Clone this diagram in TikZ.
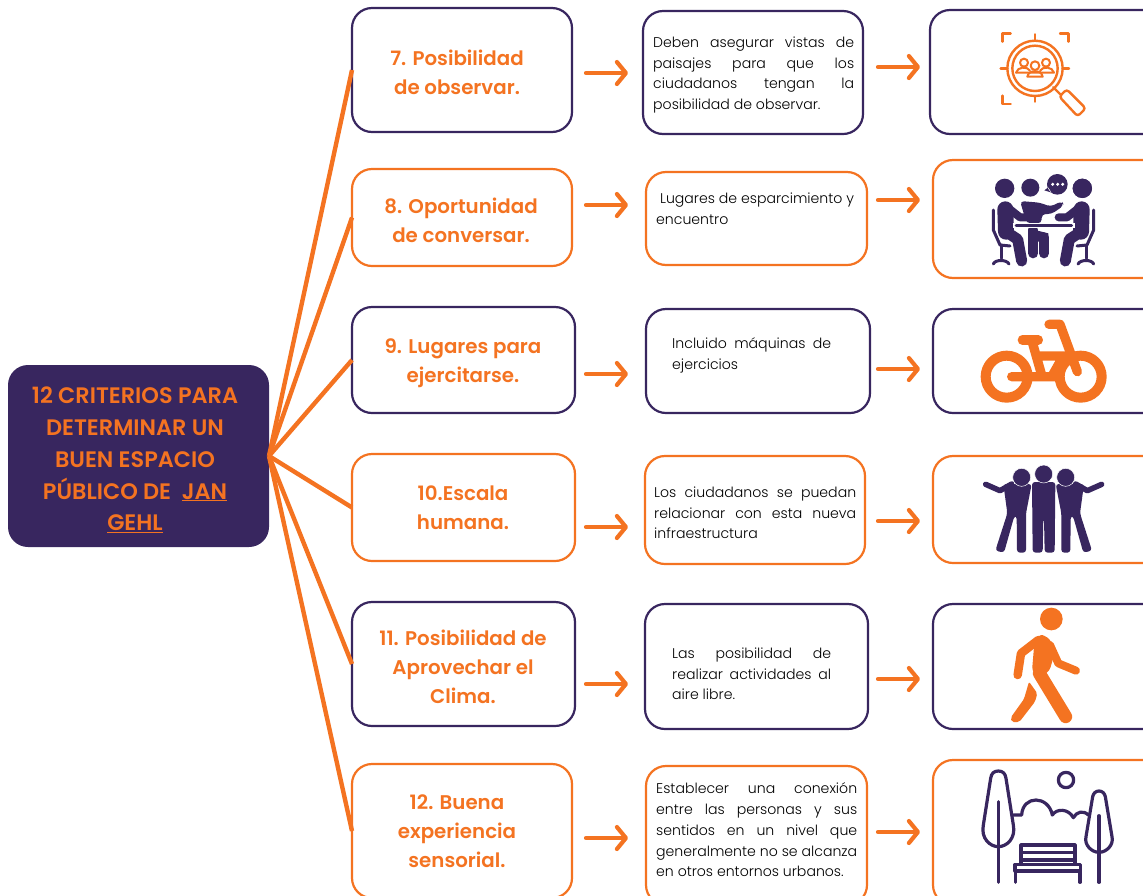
\documentclass[tikz,border=0pt]{standalone}
\usepackage{fontspec}
\usetikzlibrary{arrows.meta}
\setmainfont{Poppins}[BoldFont={Poppins SemiBold}]
\newfontfamily\lightf{Poppins Light}
\definecolor{purp}{HTML}{38265F}
\definecolor{orng}{HTML}{F47321}
\tikzset{
  boxnode/.style={draw=#1,fill=white,line width=2.2pt,rounded corners=20pt,inner sep=0pt,outer sep=0pt,anchor=north west},
  hub/.style={fill=purp,rounded corners=20pt,inner sep=0pt,outer sep=0pt,anchor=north west},
  spoke/.style={draw=orng,line width=4.4pt},
  flow/.style={draw=orng,line width=4.2pt,line cap=round,-{Straight Barb[length=9pt,width=22pt,round]}},
  headtxt/.style={text=orng,font=\fontsize{19.8}{29}\selectfont\bfseries,align=center,inner sep=0pt},
  bodytxt/.style={text=black,font=\lightf\fontsize{14.1}{20.8}\selectfont,align=left,inner sep=0pt,anchor=north west},
  ol/.style={draw=orng,line width=2.4pt,line cap=round,line join=round},
  pl/.style={draw=purp,line width=3.2pt,line cap=round,line join=round},
  th/.style={draw=#1,line cap=round,line join=round},
}
\newcommand{\bx}[6]{%
  \pgfmathsetmacro{\bw}{#4-#2}\pgfmathsetmacro{\bh}{#5-#3}%
  \node[boxnode=#6,minimum width=\bw pt,minimum height=\bh pt] (#1) at (#2,#3) {};}
\newcommand{\jl}[2]{\makebox[#1pt][s]{#2}\\}
\newcommand{\seated}{%
  \draw[th=purp,line width=16pt] (256,628)--(258,695);
  \draw[th=purp,line width=8pt] (262,622)--(300,652)--(325,652);
  \draw[th=purp,line width=11pt] (258,695)--(293,718)--(305,783);
  \draw[th=purp,line width=3pt] (220,630)--(220,690)--(240,735)--(270,738);
  \draw[th=purp,line width=3pt] (243,735)--(243,775);
  \draw[th=purp,line width=3pt] (220,792) .. controls (225,778) and (260,778) .. (267,792);
  \fill[purp] (254,565) circle (29);
}
\newcommand{\hugger}{%
  \draw[th=purp,line width=5.5pt] (197,553)--(240,572)--(275,552);
  \fill[purp,rounded corners=3pt] (250,552)--(335,552)--(318,640)--(318,758)--(291,758)--(290,648)--(283,648)--(252,758)--(226,752)--(262,640)--cycle;
}
\begin{document}
\begin{tikzpicture}[x=1pt,y=-1pt]
\useasboundingbox (0,0) rectangle (1143,895);
\clip (0,0) rectangle (1143,895);

\pgfmathsetmacro{\hw}{269-8}\pgfmathsetmacro{\hh}{547-365}
\node[hub,minimum width=\hw pt,minimum height=\hh pt] (c) at (8,365) {};

\bx{a7}{352}{8}{572}{132}{purp}
\bx{a8}{352}{169}{572}{266}{orng}
\bx{a9}{352}{307}{575}{413}{purp}
\bx{a10}{352}{454}{575}{561}{orng}
\bx{a11}{352}{602}{575}{726}{purp}
\bx{a12}{352}{764}{572}{898}{orng}

\bx{b7}{643}{11}{863}{134}{purp}
\bx{b8}{646}{172}{867}{265}{orng}
\bx{b9}{646}{309}{870}{413}{purp}
\bx{b10}{645}{456}{865}{564}{orng}
\bx{b11}{645}{604}{868}{729}{purp}
\bx{b12}{646}{766}{867}{905}{orng}

\bx{d7}{930}{10}{1165}{134}{purp}
\bx{d8}{933}{160}{1165}{278}{orng}
\bx{d9}{933}{309}{1165}{413}{purp}
\bx{d10}{933}{456}{1165}{563}{orng}
\bx{d11}{933}{604}{1165}{729}{purp}
\bx{d12}{933}{760}{1165}{905}{orng}

\foreach \n in {7,8,9,10,11,12} \draw[spoke] (c.east) -- (a\n.west);

\foreach \n/\ya/\yb in {7/73/67,8/205/200,9/374/369,10/527/521,11/684/679,12/838/832}{
  \coordinate (p\n) at (586,\ya); \coordinate (q\n) at (628,\ya);
  \coordinate (r\n) at (878,\yb); \coordinate (s\n) at (920,\yb);
  \draw[flow] (p\n) -- (q\n);
  \draw[flow] (r\n) -- (s\n);
}

\node[text=orng,font=\fontsize{22.4}{31.8}\selectfont\bfseries,align=center,inner sep=0pt] (title) at (135,460)
 {12 CRITERIOS PARA\\DETERMINAR UN\\BUEN ESPACIO\\PÚBLICO DE\ \ \underline{JAN}\\\underline{GEHL}};

\node[headtxt] (t7) at (457,72.5) {7. Posibilidad\\de observar.};
\node[headtxt] (t8) at (461,220.5) {8. Oportunidad\\de conversar.};
\node[headtxt] (t9) at (463,363.5) {9. Lugares para\\ejercitarse.};
\node[headtxt] (t10) at (463,507.5) {10.Escala\\humana.};
\node[headtxt] (t11) at (463,667) {11. Posibilidad de\\Aprovechar el\\Clima.};
\node[headtxt] (t12) at (457,831) {12. Buena\\experiencia\\sensorial.};

\node[bodytxt] (u7) at (653,36.5) {\jl{201}{Deben asegurar vistas de}\jl{201}{paisajes para que los}\jl{201}{ciudadanos tengan la}posibilidad de observar.};
\node[bodytxt] (u8) at (656,192.5) {\ Lugares de esparcimiento y\\encuentro};
\node[bodytxt] (u9) at (672,337.5) {\jl{159}{Incluido máquinas de}ejercicios};
\node[bodytxt] (u10) at (654,486.5) {\jl{202}{Los ciudadanos se puedan}\jl{202}{relacionar con esta nueva}infraestructura};
\node[bodytxt] (u11) at (672,647.5) {\jl{159}{Las posibilidad de}\jl{159}{realizar actividades al}aire libre.};
\node[bodytxt] (u12) at (656,782.5) {\jl{201}{Establecer una conexión}\jl{201}{entre las personas y sus}\jl{201}{sentidos en un nivel que}\jl{201}{generalmente no se alcanza}en otros entornos urbanos.};

% icon 7: magnifier over people
\begin{scope}[shift={(920,0)},scale=1/3]
  \draw[ol] (247,125)--(247,100)--(272,100);
  \draw[ol] (420,100)--(445,100)--(445,125);
  \draw[ol] (247,287)--(247,312)--(272,312);
  \draw[ol] (345,103)--(345,122) (345,288)--(345,305) (242,205)--(262,205) (428,205)--(447,205);
  \draw[ol] (345,205) circle (83) (345,205) circle (68);
  \draw[ol] (400,262)--(422,284);
  \draw[ol,rounded corners=3pt] (418,290)--(440,268)--(497,325)--(473,349)--cycle;
  \draw[ol,line width=2pt] (312,188) circle (12) (378,188) circle (12) (345,197) circle (13);
  \draw[ol,line width=2pt] (288,218) .. controls (292,200) and (322,198) .. (330,212);
  \draw[ol,line width=2pt] (360,212) .. controls (368,198) and (398,200) .. (402,218)--(288,218);
  \draw[ol,line width=2pt] (322,230) .. controls (325,208) and (365,208) .. (368,230)--cycle;
\end{scope}

% icon 8: people at a table
\begin{scope}[shift={(920,0)},scale=1/3]
  \fill[purp,rounded corners=4pt] (300,603)--(360,608)--(392,620)--(425,603)--(432,616)--(395,642)--(365,642)--(365,670)--(320,670)--cycle;
  \draw[th=purp,line width=10pt] (340,690)--(340,760) (372,712)--(372,760);
  \fill[purp] (325,685)--(385,700)--(385,725)--(325,725)--cycle;
  \seated
  \begin{scope}[shift={(741,0)},xscale=-1]
    \seated
  \end{scope}
  \draw[draw=white,line width=5pt] (278,675)--(465,675);
  \draw[th=purp,line width=3pt] (288,675)--(455,675);
  \fill[purp] (331,563) circle (27) (487,565) circle (29);
  \fill[purp] (412,553) circle (31) (385,562)--(373,571)--(395,578)--cycle;
  \fill[white] (398,553) circle (5) (413,553) circle (5) (428,553) circle (5);
\end{scope}

% icon 9: bicycle
\begin{scope}[shift={(920,300)},scale=1/3]
  \draw[th=orng,line width=10pt] (260,230) circle (63) (482,230) circle (63);
  \draw[th=orng,line width=9.3pt] (275,230)--(405,230) (430,168)--(395,230) (355,168)--(450,168) (335,120)--(365,225);
  \draw[th=orng,line width=9.3pt] (307,120)--(355,120);
  \draw[th=orng,line width=9.3pt] (387,73)--(420,73)--(472,215);
\end{scope}

% icon 10: three people
\begin{scope}[shift={(920,300)},scale=1/3]
  \hugger
  \begin{scope}[shift={(742,0)},xscale=-1]
    \hugger
  \end{scope}
  \fill[purp,rounded corners=3pt] (336,546)--(406,546)--(404,758)--(374,758)--(372,655)--(370,655)--(368,758)--(338,758)--cycle;
  \draw[draw=white,line width=.5pt,fill=purp] (305,532) circle (27) (437,532) circle (27) (371,522) circle (27);
\end{scope}

% icon 11: walker
\begin{scope}[shift={(920,595)},scale=1/3]
  \fill[orng] (394,72) circle (34);
  \draw[th=orng,line width=8.5pt] (355,135)--(303,175)--(293,240);
  \draw[th=orng,line width=8pt] (390,150)--(415,205)--(468,227);
  \fill[orng,rounded corners=8pt] (345,120)--(385,120)--(405,170)--(385,240)--(335,240)--cycle;
  \draw[th=orng,line width=13pt] (358,235)--(437,365);
  \fill[orng,rounded corners=2pt] (327,260)--(352,295)--(345,320)--(298,381)--(275,381)--(272,368)--(312,312)--cycle;
\end{scope}

% icon 12: park
\begin{scope}[shift={(920,595)},scale=1/3]
  \draw[pl] (235,528) .. controls (222,528) and (214,535) .. (212,550) -- (190,690) .. controls (182,730) and (210,755) .. (235,755) .. controls (260,755) and (288,730) .. (280,690) -- (258,550) .. controls (256,535) and (248,528) .. (235,528) -- cycle;
  \draw[pl] (235,620)--(235,862);
  \draw[pl] (537,588) .. controls (527,588) and (520,595) .. (518,605) -- (498,725) .. controls (492,750) and (515,772) .. (537,772) .. controls (559,772) and (582,750) .. (576,725) -- (556,605) .. controls (554,595) and (547,588) .. (537,588) -- cycle;
  \draw[pl] (537,662)--(537,862);
  \draw[pl] (438,555) circle (23);
  \draw[pl] (280,660)--(305,660) .. controls (308,600) and (385,600) .. (397,660) .. controls (410,640) and (445,640) .. (460,668) .. controls (470,650) and (490,645) .. (505,660);
  \draw[pl] (303,750)--(465,750) (303,772)--(465,772) (303,795)--(465,795) (303,750)--(303,806) (465,750)--(465,806);
  \draw[pl] (285,808)--(482,808)--(482,828)--(285,828)--cycle;
  \draw[pl] (287,828)--(287,862) (480,828)--(480,862);
\end{scope}
\end{tikzpicture}
\end{document}
